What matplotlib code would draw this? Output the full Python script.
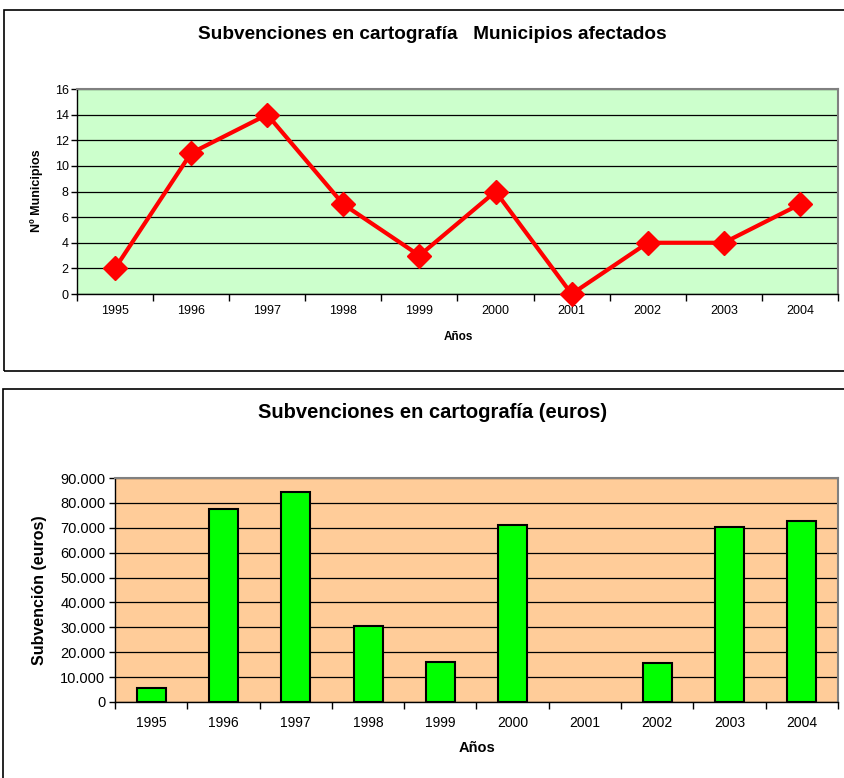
import matplotlib.pyplot as plt
from matplotlib.patches import Rectangle
from matplotlib.ticker import FuncFormatter

# Data
years = ["1995", "1996", "1997", "1998", "1999", "2000", "2001", "2002", "2003", "2004"]
municipios = [2, 11, 14, 7, 3, 8, 0, 4, 4, 7]
subvencion = [5500, 77600, 84200, 30700, 16200, 71300, 0, 15500, 70400, 72700]

plt.rcParams['font.family'] = ['Liberation Sans', 'DejaVu Sans']

fig = plt.figure(figsize=(8.45, 7.78), dpi=100)

# frames around each chart
fig.patches.append(Rectangle((0.0047, 0.5231), 1.1, 0.464, transform=fig.transFigure,
                             fill=False, edgecolor="black", linewidth=1.2))
fig.patches.append(Rectangle((0.0035, -0.1), 1.1, 0.5994, transform=fig.transFigure,
                             fill=False, edgecolor="black", linewidth=1.2))

x = list(range(len(years)))


def style_axes(ax):
    for side in ["top", "right"]:
        ax.spines[side].set_color("#808080")
        ax.spines[side].set_linewidth(1.5)
    for side in ["left", "bottom"]:
        ax.spines[side].set_color("black")
        ax.spines[side].set_linewidth(1)
    ax.set_xlim(-0.5, len(years) - 0.5)
    ax.set_axisbelow(True)
    ax.yaxis.grid(True, color="black", linewidth=0.9)
    # x ticks at category boundaries, labels at centres
    ax.set_xticks([i - 0.5 for i in range(len(years) + 1)])
    ax.set_xticklabels([])
    ax.set_xticks(x, minor=True)
    ax.set_xticklabels(years, minor=True)
    ax.tick_params(axis="x", which="minor", length=0)
    ax.tick_params(axis="x", which="major", direction="out", length=5, width=1)
    ax.tick_params(axis="y", direction="out", length=4, width=1)


# Top chart: municipios
ax1 = fig.add_axes([0.0911, 0.6221, 0.9006, 0.2635])
ax1.set_facecolor("#CCFFCC")
ax1.plot(x, municipios, color="#FF0000", linewidth=3, marker="D", markersize=12,
         clip_on=False, zorder=3)
ax1.set_ylim(0, 16)
ax1.set_yticks(range(0, 17, 2))
style_axes(ax1)
ax1.tick_params(axis="x", which="minor", labelsize=9, pad=8)
ax1.tick_params(axis="y", labelsize=9, pad=2)

fig.text(0.512, 0.956, "Subvenciones en cartografía   Municipios afectados",
         ha="center", va="center", fontsize=13.7, fontweight="bold")
fig.text(0.0438, 0.7545, "Nº Municipios", rotation=90, ha="center", va="center",
         fontsize=9, fontweight="bold")
fig.text(0.542, 0.5668, "Años", ha="center", va="center", fontsize=8.5, fontweight="bold")

# Bottom chart: subvencion
ax2 = fig.add_axes([0.1361, 0.0977, 0.8556, 0.2879])
ax2.set_facecolor("#FFCC99")
edges = ["black" if v > 0 else "none" for v in subvencion]
ax2.bar(x, subvencion, width=0.4, color="#00FF00", edgecolor=edges, linewidth=1.5,
        zorder=3)
ax2.set_ylim(0, 90000)
ax2.set_yticks(range(0, 90001, 10000))
ax2.yaxis.set_major_formatter(FuncFormatter(lambda v, p: f"{int(v):,}".replace(",", ".")))
style_axes(ax2)
ax2.tick_params(axis="x", which="minor", labelsize=10, pad=10)
ax2.tick_params(axis="y", labelsize=10.5, pad=3)

fig.text(0.512, 0.4692, "Subvenciones en cartografía (euros)", ha="center", va="center",
         fontsize=14.5, fontweight="bold")
fig.text(0.0473, 0.2416, "Subvención (euros)", rotation=90, ha="center", va="center",
         fontsize=11.5, fontweight="bold")
fig.text(0.565, 0.0386, "Años", ha="center", va="center", fontsize=10.5, fontweight="bold")

fig.savefig("out.png", dpi=100)
